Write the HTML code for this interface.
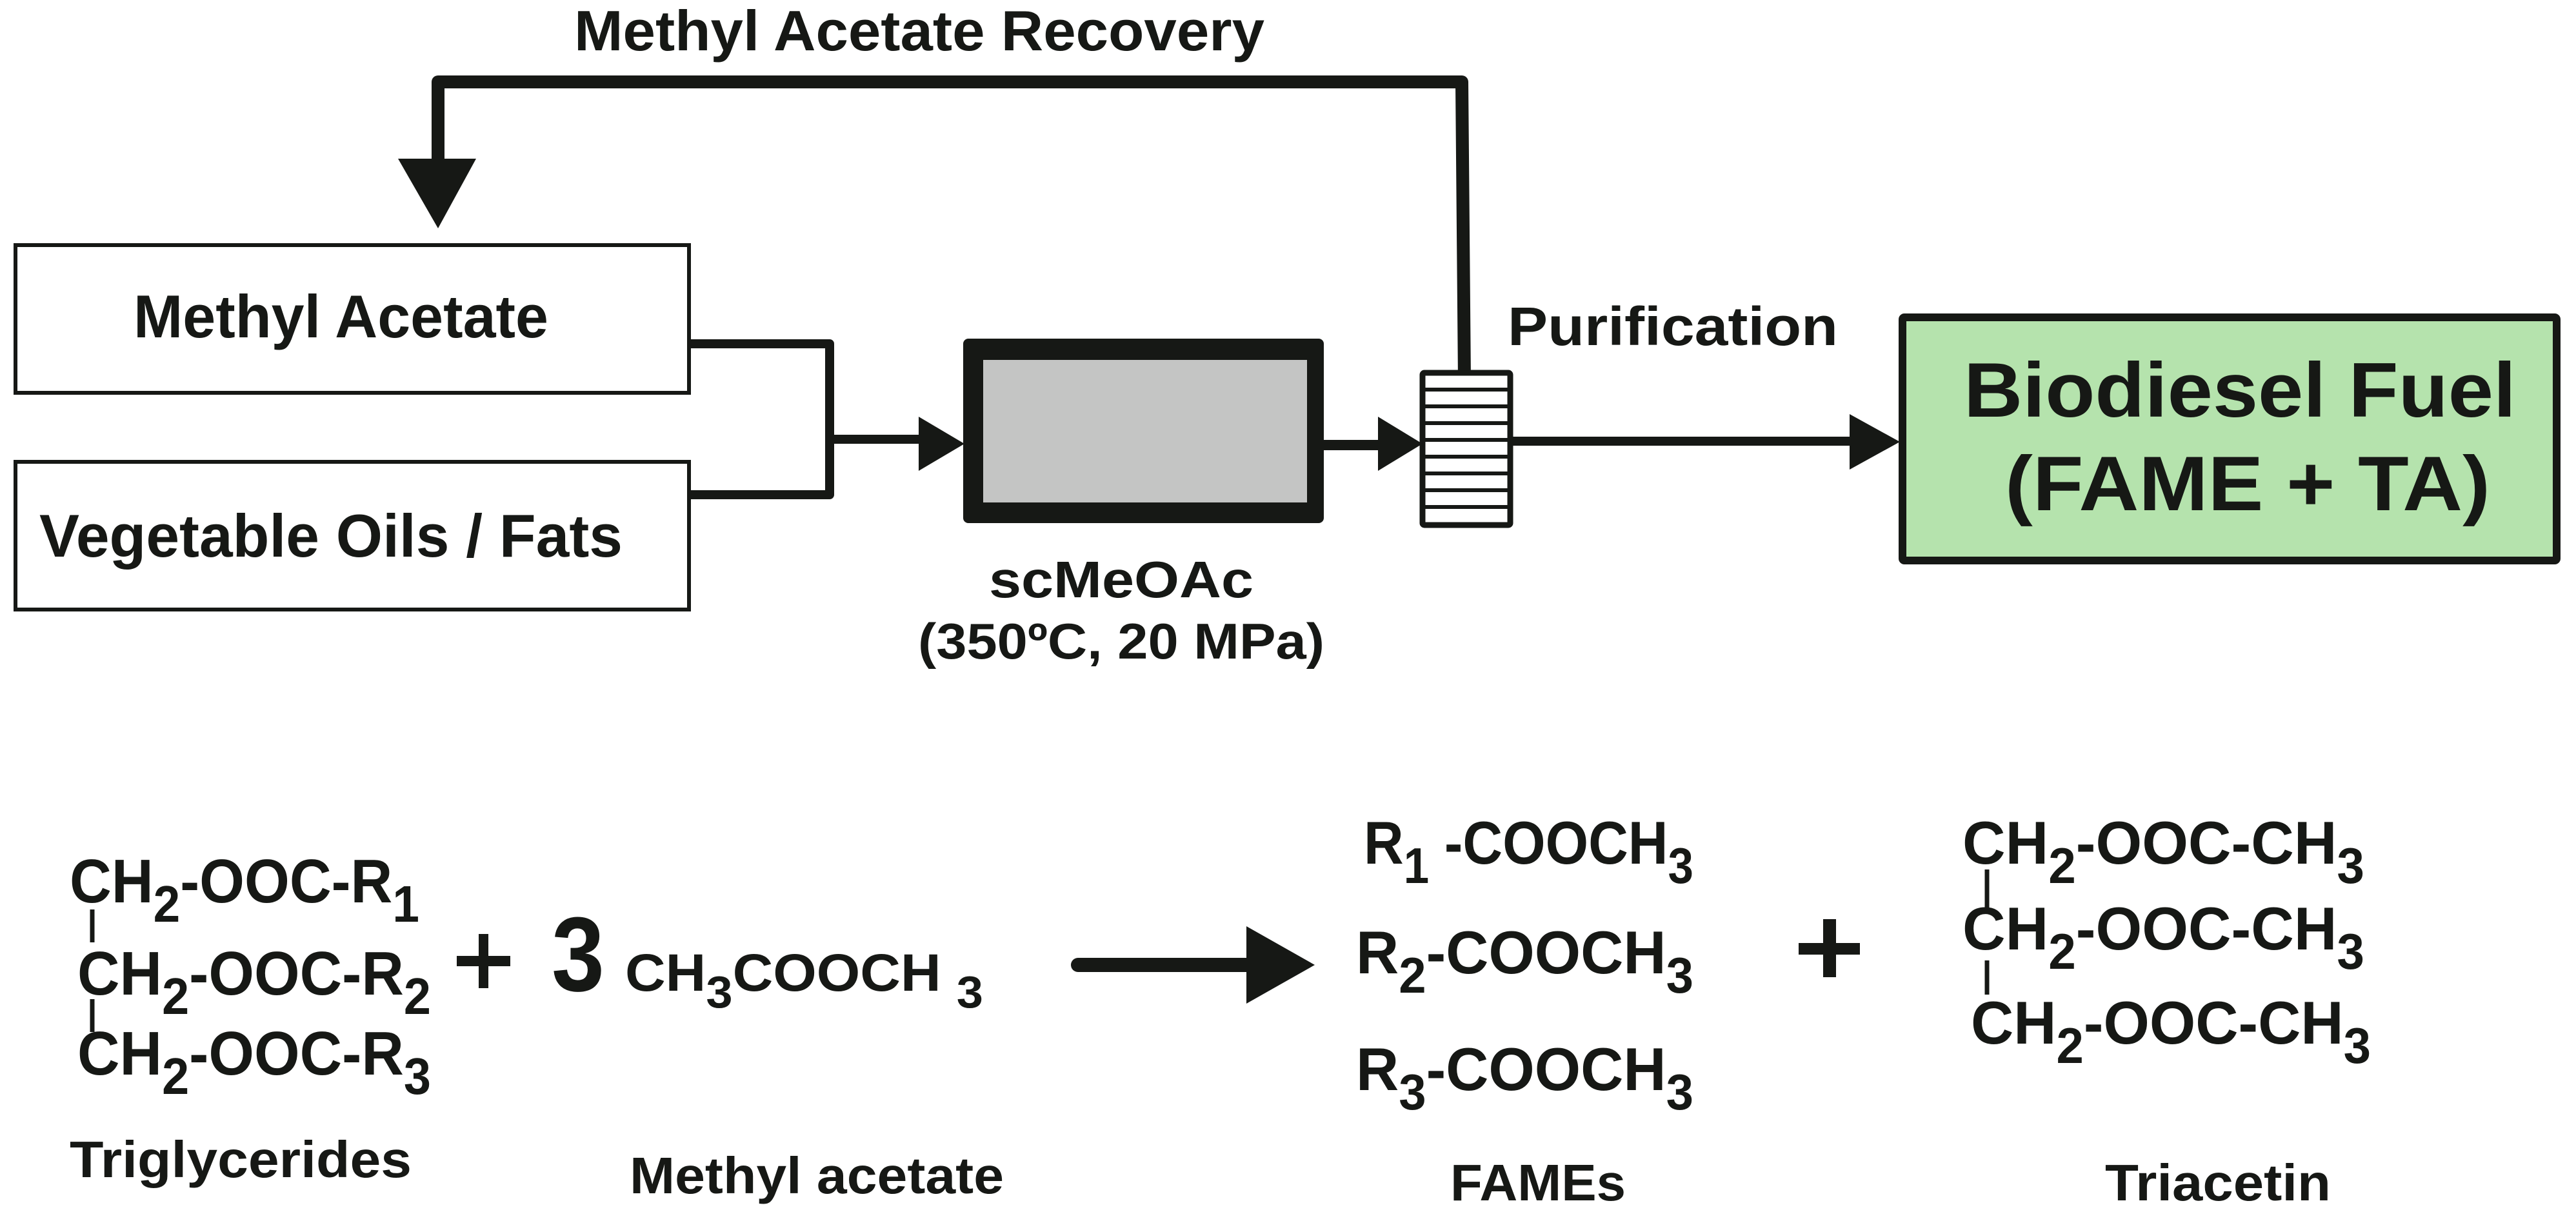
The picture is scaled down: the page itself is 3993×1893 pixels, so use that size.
<!DOCTYPE html>
<html><head><meta charset="utf-8"><style>html,body{margin:0;padding:0;background:#fff}svg{display:block}</style></head>
<body>
<svg width="3993" height="1893" viewBox="0 0 3993 1893" xmlns="http://www.w3.org/2000/svg" font-family="Liberation Sans, Arial, sans-serif" font-weight="bold" fill="#161815">
<rect width="3993" height="1893" fill="#fff"/>
<!-- Recovery loop -->
<text x="890" y="78" font-size="88" textLength="1070" lengthAdjust="spacingAndGlyphs">Methyl Acetate Recovery</text>
<polyline points="2270,590 2266,127 679,127 679,250" fill="none" stroke="#161815" stroke-width="20" stroke-linejoin="round"/>
<polygon points="617,246 738,246 679,354" fill="#161815"/>
<!-- Input boxes -->
<rect x="24" y="380" width="1044" height="229" fill="#fff" stroke="#161815" stroke-width="6"/>
<rect x="24" y="716" width="1044" height="229" fill="#fff" stroke="#161815" stroke-width="6"/>
<text x="207" y="523" font-size="94" textLength="643" lengthAdjust="spacingAndGlyphs">Methyl Acetate</text>
<text x="61" y="863" font-size="94" textLength="904" lengthAdjust="spacingAndGlyphs">Vegetable Oils / Fats</text>
<!-- merge connectors -->
<polyline points="1066,533 1286,533 1286,767 1066,767" fill="none" stroke="#161815" stroke-width="14" stroke-linejoin="round"/>
<line x1="1286" y1="681" x2="1430" y2="681" stroke="#161815" stroke-width="14"/>
<polygon points="1424,646 1495,688 1424,730" fill="#161815"/>
<!-- Reactor -->
<rect x="1493" y="525" width="559" height="286" rx="8" fill="#161815"/>
<rect x="1524" y="558" width="502" height="221" fill="#c4c5c4"/>
<text x="1738" y="926" font-size="80" text-anchor="middle" textLength="410" lengthAdjust="spacingAndGlyphs">scMeOAc</text>
<text x="1738" y="1021" font-size="78" text-anchor="middle" textLength="630" lengthAdjust="spacingAndGlyphs">(350ºC, 20 MPa)</text>
<!-- reactor -> purification -->
<line x1="2052" y1="690" x2="2140" y2="690" stroke="#161815" stroke-width="16"/>
<polygon points="2136,646 2205,688 2136,730" fill="#161815"/>
<!-- Purification -->
<rect x="2205" y="578" width="136" height="236" rx="3" fill="#fff" stroke="#161815" stroke-width="9"/>
<g stroke="#161815" stroke-width="6">
<line x1="2205" y1="604" x2="2341" y2="604"/>
<line x1="2205" y1="630" x2="2341" y2="630"/>
<line x1="2205" y1="656" x2="2341" y2="656"/>
<line x1="2205" y1="682" x2="2341" y2="682"/>
<line x1="2205" y1="708" x2="2341" y2="708"/>
<line x1="2205" y1="734" x2="2341" y2="734"/>
<line x1="2205" y1="760" x2="2341" y2="760"/>
<line x1="2205" y1="786" x2="2341" y2="786"/>
</g>
<text x="2337" y="535" font-size="84" textLength="512" lengthAdjust="spacingAndGlyphs">Purification</text>
<line x1="2341" y1="684" x2="2875" y2="684" stroke="#161815" stroke-width="14"/>
<polygon points="2867,642 2945,685 2867,728" fill="#161815"/>
<!-- Biodiesel -->
<rect x="2949" y="492" width="1014" height="377" fill="#b5e3ad" stroke="#161815" stroke-width="12" rx="3"/>
<text x="3044" y="646" font-size="120" textLength="856" lengthAdjust="spacingAndGlyphs">Biodiesel Fuel</text>
<text x="3108" y="791" font-size="120" textLength="752" lengthAdjust="spacingAndGlyphs">(FAME + TA)</text>
<!-- Reaction: triglycerides -->
<g font-size="96">
<text x="108" y="1399" textLength="542" lengthAdjust="spacingAndGlyphs">CH<tspan dy="30" font-size="80">2</tspan><tspan dy="-30">-OOC-R</tspan><tspan dy="30" font-size="80">1</tspan></text>
<text x="120" y="1542" textLength="548" lengthAdjust="spacingAndGlyphs">CH<tspan dy="30" font-size="80">2</tspan><tspan dy="-30">-OOC-R</tspan><tspan dy="30" font-size="80">2</tspan></text>
<text x="120" y="1666" textLength="548" lengthAdjust="spacingAndGlyphs">CH<tspan dy="30" font-size="80">2</tspan><tspan dy="-30">-OOC-R</tspan><tspan dy="30" font-size="80">3</tspan></text>
</g>
<line x1="143" y1="1410" x2="143" y2="1461" stroke="#161815" stroke-width="7"/>
<line x1="143" y1="1549" x2="143" y2="1600" stroke="#161815" stroke-width="7"/>
<rect x="708" y="1482" width="83" height="16" fill="#161815"/><rect x="742" y="1448" width="15" height="84" fill="#161815"/>
<text x="855" y="1536" font-size="164" textLength="82" lengthAdjust="spacingAndGlyphs">3</text>
<text x="969" y="1536" font-size="82" textLength="555" lengthAdjust="spacingAndGlyphs">CH<tspan dy="26" font-size="70">3</tspan><tspan dy="-26">COOCH </tspan><tspan dy="26" font-size="70">3</tspan></text>
<text x="108" y="1825" font-size="80" textLength="530" lengthAdjust="spacingAndGlyphs">Triglycerides</text>
<text x="976" y="1850" font-size="80" textLength="580" lengthAdjust="spacingAndGlyphs">Methyl acetate</text>
<!-- Reaction arrow -->
<line x1="1671" y1="1496" x2="1940" y2="1496" stroke="#161815" stroke-width="22" stroke-linecap="round"/>
<polygon points="1932,1436 2038,1496 1932,1556" fill="#161815"/>
<!-- FAMEs -->
<g font-size="94">
<text x="2114" y="1339" textLength="511" lengthAdjust="spacingAndGlyphs">R<tspan dy="30" font-size="78">1</tspan><tspan dy="-30"> -COOCH</tspan><tspan dy="30" font-size="78">3</tspan></text>
<text x="2102" y="1509" textLength="523" lengthAdjust="spacingAndGlyphs">R<tspan dy="30" font-size="78">2</tspan><tspan dy="-30">-COOCH</tspan><tspan dy="30" font-size="78">3</tspan></text>
<text x="2102" y="1690" textLength="523" lengthAdjust="spacingAndGlyphs">R<tspan dy="30" font-size="78">3</tspan><tspan dy="-30">-COOCH</tspan><tspan dy="30" font-size="78">3</tspan></text>
</g>
<rect x="2788" y="1462" width="95" height="18" fill="#161815"/><rect x="2826" y="1425" width="20" height="90" fill="#161815"/>
<!-- Triacetin -->
<g font-size="94">
<text x="3042" y="1339" textLength="623" lengthAdjust="spacingAndGlyphs">CH<tspan dy="30" font-size="78">2</tspan><tspan dy="-30">-OOC-CH</tspan><tspan dy="30" font-size="78">3</tspan></text>
<text x="3042" y="1472" textLength="623" lengthAdjust="spacingAndGlyphs">CH<tspan dy="30" font-size="78">2</tspan><tspan dy="-30">-OOC-CH</tspan><tspan dy="30" font-size="78">3</tspan></text>
<text x="3055" y="1618" textLength="620" lengthAdjust="spacingAndGlyphs">CH<tspan dy="30" font-size="78">2</tspan><tspan dy="-30">-OOC-CH</tspan><tspan dy="30" font-size="78">3</tspan></text>
</g>
<line x1="3080" y1="1348" x2="3080" y2="1412" stroke="#161815" stroke-width="7"/>
<line x1="3080" y1="1489" x2="3080" y2="1542" stroke="#161815" stroke-width="7"/>
<text x="2248" y="1861" font-size="80" textLength="272" lengthAdjust="spacingAndGlyphs">FAMEs</text>
<text x="3263" y="1861" font-size="80" textLength="350" lengthAdjust="spacingAndGlyphs">Triacetin</text>
</svg>
</body></html>
